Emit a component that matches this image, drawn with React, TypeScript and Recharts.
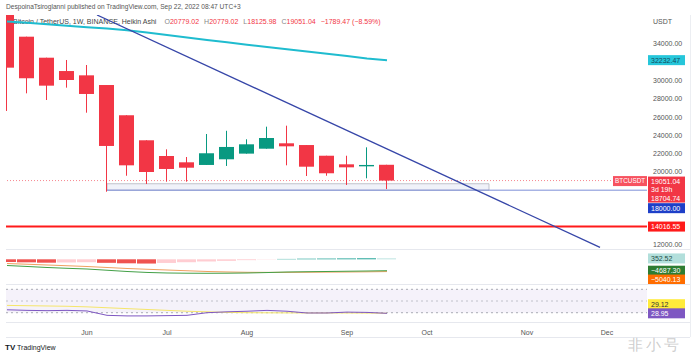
import React from 'react';
import {
  ComposedChart,
  Bar,
  Line,
  XAxis,
  YAxis,
  ReferenceLine,
  ReferenceArea,
  Cell,
} from 'recharts';

// weekly Heikin Ashi candles, BTCUSDT (Binance)
const weeks = [
  'May 9', 'May 16', 'May 23', 'May 30', 'Jun 6', 'Jun 13', 'Jun 20', 'Jun 27',
  'Jul 4', 'Jul 11', 'Jul 18', 'Jul 25', 'Aug 1', 'Aug 8', 'Aug 15', 'Aug 22',
  'Aug 29', 'Sep 5', 'Sep 12', 'Sep 19',
];
const opens = [
  38500, 34800, 32500, 31040, 30570, 29510, 26200, 23460, 21740, 21050,
  20760, 21380, 22000, 22540, 23130, 22940, 21770, 20830, 20610, 20779.02,
];
const highs = [
  38900, 34800, 32500, 32250, 31700, 29510, 26200, 23460, 22470, 21630,
  24150, 24500, 23570, 24950, 25060, 22940, 21770, 21770, 22690, 20779.02,
];
const lows = [
  26670, 28600, 27870, 29220, 26480, 17830, 19580, 18680, 18930, 18930,
  20760, 20650, 22000, 22540, 20720, 19550, 19580, 18570, 19300, 18125.98,
];
const closes = [
  31410, 30250, 29440, 30060, 28530, 22840, 20720, 19990, 20320, 20460,
  22040, 22730, 23020, 23710, 22800, 20570, 19850, 20500, 20760, 19051.04,
];
// cyan moving average
const maValues = [
  36460, 36320, 36160, 35990, 35840, 35690, 35510, 35250, 34990, 34720,
  34450, 34190, 33930, 33670, 33430, 33180, 32930, 32690, 32420, 32232.47,
];

// MACD panel
const macdHist = [
  -1100, -1250, -1400, -1300, -1200, -1450, -1650, -1750, -1500, -1200,
  -900, -650, -350, -100, 150, 250, 300, 360, 420, 352.52,
];
const macdLine = [
  -2550, -2950, -3370, -3700, -3990, -4500, -5010, -5400, -5630, -5720,
  -5750, -5720, -5630, -5450, -5220, -5110, -5010, -4910, -4810, -4687.3,
];
const signalLine = [
  -1730, -2030, -2340, -2650, -2960, -3370, -3780, -4090, -4400, -4710,
  -5010, -5200, -5340, -5370, -5370, -5330, -5270, -5220, -5150, -5040.13,
];

// RSI panel
const rsiValues = [
  35, 34, 33.5, 34, 33, 25.5, 24.5, 24.5, 25, 25.5,
  30, 31.5, 32.5, 34, 32.5, 29.5, 29.5, 31, 30.5, 28.95,
];
const rsiMaValues = [
  42.5, 42, 41.5, 41, 40, 38.5, 37, 35.5, 34, 32.5,
  31.5, 30.5, 30, 29.8, 29.7, 29.6, 29.6, 29.5, 29.4, 29.12,
];

const monthTicks = [4, 8, 12, 17, 21, 26, 30];
const monthLabels = ['Jun', 'Jul', 'Aug', 'Sep', 'Oct', 'Nov', 'Dec'];
// 14000-18000 and 32000 sit under the price badges, so TV hides them
const priceTicks = [12000, 20000, 22000, 24000, 26000, 28000, 30000, 34000];

const data = weeks.map((w, i) => ({
  i,
  week: w,
  o: opens[i],
  h: highs[i],
  l: lows[i],
  c: closes[i],
  range: [lows[i], highs[i]],
  ma: maValues[i],
  hist: macdHist[i],
  macd: macdLine[i],
  signal: signalLine[i],
  rsi: rsiValues[i],
  rsiMa: rsiMaValues[i],
}));

const RED = '#f23645';
const GREEN = '#089981';
const FONT = '"Liberation Sans", Arial, sans-serif';
const X_DOMAIN: [number, number] = [-0.05, 32];

function Candle(props: any) {
  let { x, y, width, height, payload } = props;
  if (height < 0) {
    y += height;
    height = -height;
  }
  const { o, h, l, c } = payload;
  const k = height / (h - l);
  const yOf = (v: number) => y + (h - v) * k;
  const color = c >= o ? GREEN : RED;
  const top = yOf(Math.max(o, c));
  const bot = yOf(Math.min(o, c));
  const cx = x + width / 2;
  return (
    <g>
      <line x1={cx} x2={cx} y1={y} y2={y + height} stroke={color} strokeWidth={1} />
      <rect x={x} y={top} width={width} height={Math.max(1, bot - top)} fill={color} />
    </g>
  );
}

function badge(text: string, bg: string, fg: string, dy = 0) {
  return (props: any) => {
    const vb = props.viewBox || {};
    const x = vb.x + vb.width;
    const y = vb.y + dy;
    return (
      <g>
        <rect x={x + 1} y={y - 5} width={37} height={10} fill={bg} />
        <text x={x + 4} y={y + 2.5} fontSize={7} fill={fg} fontFamily={FONT}>
          {text}
        </text>
      </g>
    );
  };
}

function lastPriceBadge(props: any) {
  const vb = props.viewBox || {};
  const x = vb.x + vb.width;
  const y = vb.y;
  return (
    <g fontFamily={FONT} fontSize={7} fill="#fff">
      <rect x={x - 34} y={y - 4.5} width={34} height={10} fill="#f7525f" />
      <text x={x - 32} y={y + 2.8} fontSize={6.4}>BTCUSDT</text>
      <rect x={x + 1} y={y - 4} width={37} height={26} fill={RED} />
      <text x={x + 4} y={y + 3.5}>19051.04</text>
      <text x={x + 4} y={y + 11}>3d 19h</text>
      <text x={x + 4} y={y + 20}>18704.74</text>
    </g>
  );
}

function histColor(v: number, i: number) {
  const prev = i > 0 ? macdHist[i - 1] : v + 1;
  if (v < 0) return v < prev ? '#ef5350' : '#ffcdd2';
  return v > prev ? '#26a69a' : '#b2dfdb';
}

const hline = (top: number, left = 6, width = 684) => (
  <div style={{ position: 'absolute', top, left, width, height: 1, background: '#e6e8ee' }} />
);

const gap = { marginLeft: 5 };

export default function App() {
  return (
    <div style={{ position: 'relative', width: 696, height: 357, background: '#fff', fontFamily: FONT, overflow: 'hidden' }}>
      <style>{'body{margin:0}'}</style>

      <div style={{ position: 'absolute', left: 6, top: 3, fontSize: 6.6, color: '#555', whiteSpace: 'nowrap' }}>
        DespoinaTsiroglanni published on TradingView.com, Sep 22, 2022 08:47 UTC+3
      </div>
      <div style={{ position: 'absolute', left: 13, top: 18, fontSize: 7, color: '#444', whiteSpace: 'nowrap' }}>
        Bitcoin / TetherUS, 1W, BINANCE, Heikin Ashi
        <span style={{ ...gap, color: '#888', marginLeft: 8 }}>O</span><span style={{ color: RED }}>20779.02</span>
        <span style={{ ...gap, color: '#888' }}>H</span><span style={{ color: RED }}>20779.02</span>
        <span style={{ ...gap, color: '#888' }}>L</span><span style={{ color: RED }}>18125.98</span>
        <span style={{ ...gap, color: '#888' }}>C</span><span style={{ color: RED }}>19051.04</span>
        <span style={{ ...gap, color: RED }}>−1789.47 (−8.59%)</span>
      </div>
      <div style={{ position: 'absolute', left: 653, top: 18, fontSize: 7, color: '#555' }}>USDT</div>

      {hline(249)}
      {hline(284)}
      {hline(322)}
      {hline(337)}
      <div style={{ position: 'absolute', left: 690, top: 15, width: 1, height: 322, background: '#eceef2' }} />

      {/* price pane */}
      <div style={{ position: 'absolute', left: 0, top: 0 }}>
        <ComposedChart width={696} height={249} data={data} margin={{ top: 15, right: 0, bottom: 0, left: 6 }}>
          <XAxis dataKey="i" type="number" domain={X_DOMAIN} allowDataOverflow hide />
          <YAxis
            orientation="right"
            width={49}
            domain={[11561, 37174]}
            allowDataOverflow
            ticks={priceTicks}
            tickFormatter={(v: number) => v.toFixed(2)}
            tick={{ fontSize: 7, fill: '#555', fontFamily: FONT }}
            tickLine={false}
            tickSize={4}
            tickMargin={2}
            axisLine={false}
          />
          <ReferenceArea
            x1={5}
            x2={24.1}
            y1={18000}
            y2={18704.74}
            fill="#c5cae9"
            fillOpacity={0.25}
            stroke="#a9adb8"
            strokeOpacity={0.7}
            ifOverflow="hidden"
          />
          <ReferenceLine
            segment={[{ x: 5, y: 18000 }, { x: 32, y: 18000 }]}
            stroke="#7d8fd8"
            strokeWidth={1}
            ifOverflow="hidden"
          />
          <ReferenceLine y={18000} stroke="none" label={badge('18000.00', '#1e3fc8', '#fff', 18)} />
          <ReferenceLine y={14016.55} stroke="#ff1a1a" strokeWidth={2} label={badge('14016.55', '#ff1a1a', '#fff')} />
          <ReferenceLine y={19051.04} stroke={RED} strokeOpacity={0.6} strokeDasharray="1 2" label={lastPriceBadge} />
          <ReferenceLine y={32232.47} stroke="none" label={badge('32232.47', '#26c6da', '#134a5c')} />
          <Bar dataKey="range" barSize={15} shape={Candle} isAnimationActive={false} />
          <Line dataKey="ma" stroke="#1fbccf" strokeWidth={2} dot={false} isAnimationActive={false} />
          <ReferenceLine
            segment={[{ x: 4.5, y: 37174 }, { x: 29.65, y: 11736 }]}
            stroke="#3646a8"
            strokeWidth={1.3}
            ifOverflow="hidden"
          />
        </ComposedChart>
      </div>

      {/* MACD pane */}
      <div style={{ position: 'absolute', left: 0, top: 249 }}>
        <ComposedChart width={696} height={35} data={data} margin={{ top: 0, right: 49, bottom: 0, left: 6 }}>
          <XAxis dataKey="i" type="number" domain={X_DOMAIN} allowDataOverflow hide />
          <YAxis hide domain={[-10150, 4230]} allowDataOverflow />
          <Bar dataKey="hist" barSize={19} isAnimationActive={false}>
            {data.map((d, i) => (
              <Cell key={d.week} fill={histColor(d.hist, i)} />
            ))}
          </Bar>
          <Line dataKey="signal" stroke="#f0a060" strokeWidth={1} dot={false} isAnimationActive={false} />
          <Line dataKey="macd" stroke="#43a047" strokeWidth={1} dot={false} isAnimationActive={false} />
          <ReferenceLine y={352.52} stroke="none" label={badge('352.52', '#b2dfdb', '#1d4d47')} />
          <ReferenceLine y={-4687.3} stroke="none" label={badge('−4687.30', '#2e7d32', '#fff')} />
          <ReferenceLine y={-5040.13} stroke="none" label={badge('−5040.13', '#ff6d00', '#fff', 8)} />
        </ComposedChart>
      </div>

      {/* RSI pane + time axis */}
      <div style={{ position: 'absolute', left: 0, top: 284 }}>
        <ComposedChart width={696} height={53} data={data} margin={{ top: 0, right: 49, bottom: 0, left: 6 }}>
          <XAxis
            dataKey="i"
            type="number"
            domain={X_DOMAIN}
            allowDataOverflow
            ticks={monthTicks}
            tickFormatter={(v: number) => monthLabels[monthTicks.indexOf(v)] ?? ''}
            tick={{ fontSize: 7, fill: '#555', fontFamily: FONT }}
            height={15}
            tickLine={false}
            tickSize={3}
            tickMargin={5}
            axisLine={false}
          />
          <YAxis hide domain={[14.1, 79.1]} allowDataOverflow />
          <ReferenceArea y1={30} y2={70} fill="#7e57c2" fillOpacity={0.08} stroke="none" />
          <ReferenceLine y={70} stroke="#9598a1" strokeDasharray="2 3" strokeWidth={0.8} />
          <ReferenceLine y={50} stroke="#b2b5be" strokeDasharray="2 3" strokeWidth={0.8} />
          <ReferenceLine y={30} stroke="#9598a1" strokeDasharray="2 3" strokeWidth={0.8} />
          <Line dataKey="rsiMa" stroke="#f5e66a" strokeWidth={1} dot={false} isAnimationActive={false} />
          <Line dataKey="rsi" stroke="#7e57c2" strokeWidth={1} dot={false} isAnimationActive={false} />
          <ReferenceLine y={29.12} stroke="none" label={badge('29.12', '#ffeb3b', '#333', -9)} />
          <ReferenceLine y={28.95} stroke="none" label={badge('28.95', '#7e57c2', '#fff')} />
        </ComposedChart>
      </div>

      <div style={{ position: 'absolute', left: 5, top: 343, fontSize: 7, color: '#131722', whiteSpace: 'nowrap' }}>
        <b style={{ fontSize: 8 }}>TV</b> TradingView
      </div>
      <div style={{ position: 'absolute', left: 628, top: 336, fontSize: 15, color: 'rgba(195,195,195,0.85)', letterSpacing: 3, whiteSpace: 'nowrap' }}>
        非小号
      </div>
    </div>
  );
}
